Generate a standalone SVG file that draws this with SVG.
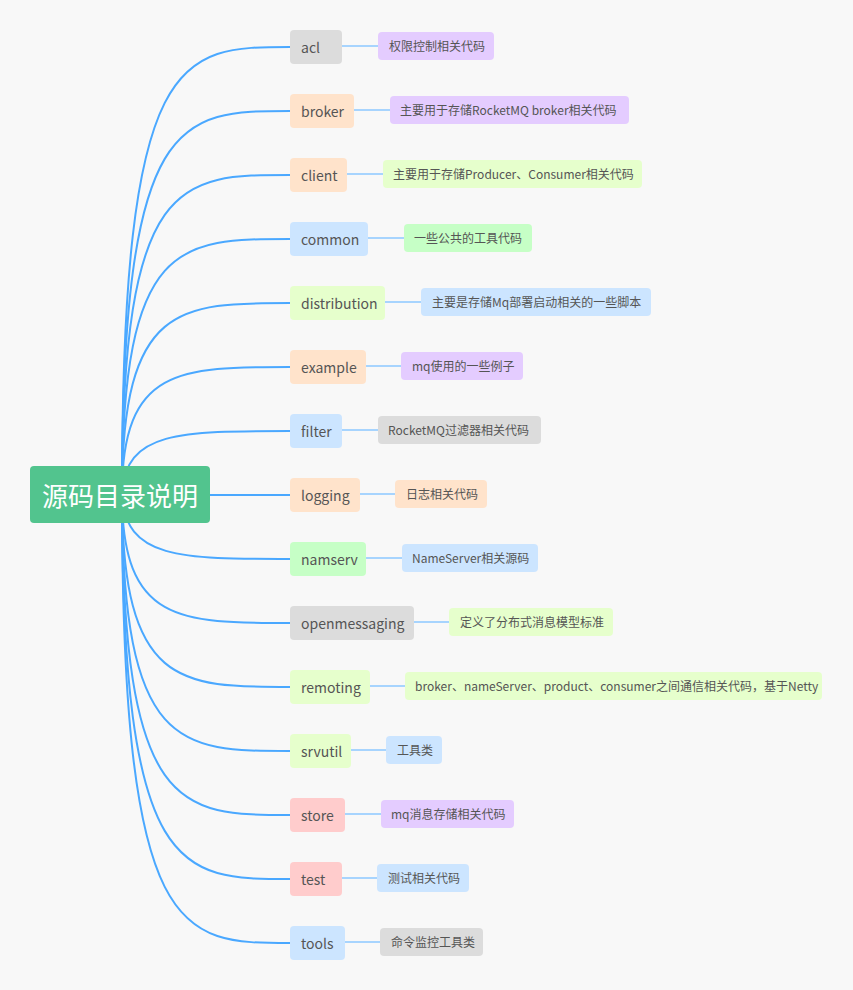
<svg xmlns="http://www.w3.org/2000/svg" width="853" height="990" viewBox="0 0 853 990">
<style>
text{font-family:"Noto Sans CJK SC","Liberation Sans",sans-serif;fill:#555;dominant-baseline:central}
.n{font-size:14px}.l{font-size:12px}
.c{fill:none;stroke:#4aa8ff;stroke-width:2}
.s{fill:none;stroke:#8cc8ff;stroke-width:1.5}
.gray{fill:#dcdcdc}.peach{fill:#ffe3cb}.blue{fill:#cce5ff}.lg{fill:#e6ffcc}.green{fill:#c6ffc6}.purple{fill:#e4ccff}.pink{fill:#ffcccc}
</style>
<rect width="853" height="990" fill="#f8f8f8"/>
<g id="connectors">
<path class="c" d="M122 494 C122 47 180 47 290 47"/>
<path class="c" d="M122 494 C122 111 180 111 290 111"/>
<path class="c" d="M122 494 C122 175 180 175 290 175"/>
<path class="c" d="M122 494 C122 239 180 239 290 239"/>
<path class="c" d="M122 494 C122 303 180 303 290 303"/>
<path class="c" d="M122 494 C122 367 180 367 290 367"/>
<path class="c" d="M122 494 C125 431 180 431 290 431"/>
<path class="c" d="M210 495 L290 495"/>
<path class="c" d="M122 494 C125 559 180 559 290 559"/>
<path class="c" d="M122 494 C122 623 180 623 290 623"/>
<path class="c" d="M122 494 C122 687 180 687 290 687"/>
<path class="c" d="M122 494 C122 751 180 751 290 751"/>
<path class="c" d="M122 494 C122 815 180 815 290 815"/>
<path class="c" d="M122 494 C122 879 180 879 290 879"/>
<path class="c" d="M122 494 C122 943 180 943 290 943"/>
<path class="s" d="M342 46H378M354 110H390M347 174H383M368 238H404M385 302H421M366 366H401M342 430H378M360 494H395M366 558H402M414 622H449M370 686H405M351 750H386M345 814H381M342 878H377M345 942H380"/>
</g>
<g id="root"><rect x="30" y="466" width="180" height="57" rx="4" fill="#52c48e"/><text x="120" y="494.5" text-anchor="middle" style="font-size:26px;fill:#fff">源码目录说明</text></g>
<g id="acl"><rect class="gray" x="290" y="30" width="52" height="34" rx="4"/><text class="n" x="301" y="47">acl</text><rect class="purple" x="378" y="32" width="116" height="28" rx="4"/><text class="l" x="389" y="45">权限控制相关代码</text></g>
<g id="broker"><rect class="peach" x="290" y="94" width="64" height="34" rx="4"/><text class="n" x="301" y="111">broker</text><rect class="purple" x="390" y="96" width="239" height="28" rx="4"/><text class="l" x="400" y="109">主要用于存储RocketMQ broker相关代码</text></g>
<g id="client"><rect class="peach" x="290" y="158" width="57" height="34" rx="4"/><text class="n" x="301" y="175">client</text><rect class="lg" x="383" y="160" width="259" height="28" rx="4"/><text class="l" x="393" y="173">主要用于存储Producer、Consumer相关代码</text></g>
<g id="common"><rect class="blue" x="290" y="222" width="78" height="34" rx="4"/><text class="n" x="301" y="239">common</text><rect class="green" x="404" y="224" width="128" height="28" rx="4"/><text class="l" x="414" y="237">一些公共的工具代码</text></g>
<g id="distribution"><rect class="lg" x="290" y="286" width="95" height="34" rx="4"/><text class="n" x="301" y="303">distribution</text><rect class="blue" x="421" y="288" width="230" height="28" rx="4"/><text class="l" x="432" y="301">主要是存储Mq部署启动相关的一些脚本</text></g>
<g id="example"><rect class="peach" x="290" y="350" width="76" height="34" rx="4"/><text class="n" x="301" y="367">example</text><rect class="purple" x="401" y="352" width="122" height="28" rx="4"/><text class="l" x="412" y="365">mq使用的一些例子</text></g>
<g id="filter"><rect class="blue" x="290" y="414" width="52" height="34" rx="4"/><text class="n" x="301" y="431">filter</text><rect class="gray" x="378" y="416" width="163" height="28" rx="4"/><text class="l" x="388" y="429">RocketMQ过滤器相关代码</text></g>
<g id="logging"><rect class="peach" x="290" y="478" width="70" height="34" rx="4"/><text class="n" x="301" y="495">logging</text><rect class="peach" x="395" y="480" width="92" height="28" rx="4"/><text class="l" x="406" y="493">日志相关代码</text></g>
<g id="namserv"><rect class="green" x="290" y="542" width="76" height="34" rx="4"/><text class="n" x="301" y="559">namserv</text><rect class="blue" x="402" y="544" width="136" height="28" rx="4"/><text class="l" x="412" y="557">NameServer相关源码</text></g>
<g id="openmessaging"><rect class="gray" x="290" y="606" width="124" height="34" rx="4"/><text class="n" x="301" y="623">openmessaging</text><rect class="lg" x="449" y="608" width="164" height="28" rx="4"/><text class="l" x="460" y="621">定义了分布式消息模型标准</text></g>
<g id="remoting"><rect class="lg" x="290" y="670" width="80" height="34" rx="4"/><text class="n" x="301" y="687">remoting</text><rect class="lg" x="405" y="672" width="417" height="28" rx="4"/><text class="l" x="415" y="685">broker、nameServer、product、consumer之间通信相关代码，基于Netty</text></g>
<g id="srvutil"><rect class="lg" x="290" y="734" width="61" height="34" rx="4"/><text class="n" x="301" y="751">srvutil</text><rect class="blue" x="386" y="736" width="56" height="28" rx="4"/><text class="l" x="397" y="749">工具类</text></g>
<g id="store"><rect class="pink" x="290" y="798" width="55" height="34" rx="4"/><text class="n" x="301" y="815">store</text><rect class="purple" x="381" y="800" width="133" height="28" rx="4"/><text class="l" x="391" y="813">mq消息存储相关代码</text></g>
<g id="test"><rect class="pink" x="290" y="862" width="52" height="34" rx="4"/><text class="n" x="301" y="879">test</text><rect class="blue" x="377" y="864" width="92" height="28" rx="4"/><text class="l" x="388" y="877">测试相关代码</text></g>
<g id="tools"><rect class="blue" x="290" y="926" width="55" height="34" rx="4"/><text class="n" x="301" y="943">tools</text><rect class="gray" x="380" y="928" width="103" height="28" rx="4"/><text class="l" x="391" y="941">命令监控工具类</text></g>
</svg>
